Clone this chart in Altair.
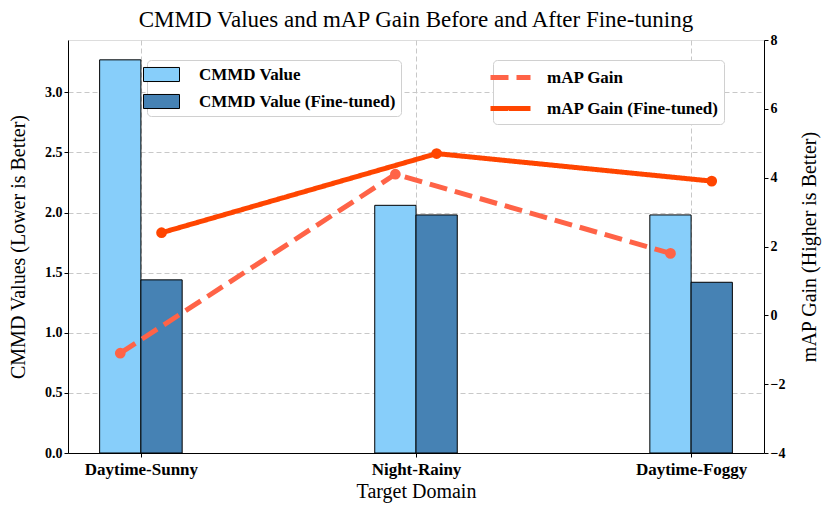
import altair as alt
import pandas as pd

categories = ["Daytime-Sunny", "Night-Rainy", "Daytime-Foggy"]
cmmd = [3.27, 2.06, 1.98]
cmmd_ft = [1.44, 1.98, 1.42]
map_gain = [-1.1, 4.1, 1.8]
map_gain_ft = [2.4, 4.7, 3.9]

bar_names = ["CMMD Value", "CMMD Value (Fine-tuned)"]
line_names = ["mAP Gain", "mAP Gain (Fine-tuned)"]
bar_colors = ["#87CEFA", "#4682B4"]
line_colors = ["#FF6347", "#FF4500"]

FONT = "Liberation Serif"
W = 0.15

rows_b, rows_l = [], []
for i, c in enumerate(categories):
    rows_b.append(dict(cat=c, series=bar_names[0], x=i - W, x2=i, v=cmmd[i]))
    rows_b.append(dict(cat=c, series=bar_names[1], x=i, x2=i + W, v=cmmd_ft[i]))
    rows_l.append(dict(cat=c, series=line_names[0], x=i - W / 2, v=map_gain[i]))
    rows_l.append(dict(cat=c, series=line_names[1], x=i + W / 2, v=map_gain_ft[i]))
df_b = pd.DataFrame(rows_b)
df_l = pd.DataFrame(rows_l)

label_expr = "[" + ",".join(f"'{c}'" for c in categories) + "][datum.value]"


def xenc():
    return alt.X("x:Q", scale=alt.Scale(domain=[-0.265, 2.265], nice=False, zero=False),
                 axis=alt.Axis(values=[0, 1, 2], labelExpr=label_expr, title="Target Domain",
                               grid=True, gridDash=[5, 3], gridColor="#c8c8c8",
                               labelFont=FONT, labelFontSize=17, labelFontWeight="bold",
                               labelColor="black", titleFont=FONT, titleFontSize=20,
                               titleFontWeight="normal", titleColor="black", titlePadding=4,
                               tickColor="black", domainColor="black", tickSize=4,
                               labelPadding=4))


def yright():
    return alt.Y("v:Q", scale=alt.Scale(domain=[-4, 8], nice=False),
                 axis=alt.Axis(orient="right", values=[-4, -2, 0, 2, 4, 6, 8],
                               labelExpr="replace(format(datum.value, 'd'), '-', '\u2212')",
                               title="mAP Gain (Higher is Better)", grid=False,
                               titleAngle=270, titleBaseline="bottom",
                               labelFont=FONT, labelFontSize=14, labelFontWeight="bold",
                               labelColor="black", titleFont=FONT, titleFontSize=20,
                               titleFontWeight="normal", titleColor="black", titlePadding=35,
                               tickColor="black", domainColor="black", tickSize=4))


bars = alt.Chart(df_b).mark_bar(stroke="black", strokeWidth=1, opacity=1).encode(
    x=xenc(),
    x2="x2:Q",
    y=alt.Y("v:Q", scale=alt.Scale(domain=[0, 3.435], nice=False),
            axis=alt.Axis(values=[0, 0.5, 1.0, 1.5, 2.0, 2.5, 3.0], format=".1f",
                          title="CMMD Values (Lower is Better)", grid=True,
                          gridDash=[5, 3], gridColor="#c8c8c8",
                          labelFont=FONT, labelFontSize=14, labelFontWeight="bold",
                          labelColor="black", titleFont=FONT, titleFontSize=20,
                          titleFontWeight="normal", titleColor="black", titlePadding=16,
                          tickColor="black", domainColor="black", tickSize=4)),
    y2=alt.datum(0),
    fill=alt.Fill("series:N", scale=alt.Scale(domain=bar_names, range=bar_colors),
                  legend=alt.Legend(title=None, orient="none", legendX=79, legendY=20,
                                    symbolType="M-2,-0.78H2V0.78H-2Z", symbolSize=324,
                                    symbolStrokeColor="black", symbolStrokeWidth=1,
                                    symbolOpacity=1, labelLimit=400,
                                    labelFont=FONT, labelFontSize=17, labelFontWeight="bold",
                                    labelColor="black", labelOffset=28, rowPadding=8,
                                    strokeColor="#d0d0d0", cornerRadius=4, padding=5,
                                    fillColor="white")),
)

leg_line = dict(title=None, orient="none", legendX=425, legendY=20,
                symbolType="M-2,0H2", symbolSize=400, symbolStrokeWidth=5,
                labelLimit=400,
                labelFont=FONT, labelFontSize=17, labelFontWeight="bold",
                labelColor="black", labelOffset=24, rowPadding=8,
                strokeColor="#d0d0d0", cornerRadius=4, padding=5, fillColor="white")

lines = alt.Chart(df_l).mark_line(strokeWidth=5).encode(
    x=xenc(),
    y=yright(),
    stroke=alt.Stroke("series:N", scale=alt.Scale(domain=line_names, range=line_colors),
                      legend=alt.Legend(**leg_line)),
    strokeDash=alt.StrokeDash("series:N",
                              scale=alt.Scale(domain=line_names, range=[[18, 8], [1, 0]]),
                              legend=alt.Legend(**leg_line)),
)

pts0 = alt.Chart(df_l).transform_filter(alt.datum.series == line_names[0]).mark_circle(
    size=115, opacity=1, color=line_colors[0]).encode(x=xenc(), y=yright())
pts1 = alt.Chart(df_l).transform_filter(alt.datum.series == line_names[1]).mark_circle(
    size=115, opacity=1, color=line_colors[1]).encode(x=xenc(), y=yright())

right = alt.layer(lines, pts0, pts1)

chart = alt.layer(bars, right).resolve_scale(y="independent").properties(
    width=696, height=413,
    title=alt.Title("CMMD Values and mAP Gain Before and After Fine-tuning",
                    font=FONT, fontSize=23, fontWeight="normal", color="black",
                    anchor="middle", offset=1),
    autosize=alt.AutoSizeParams(type="none"),
    padding={"left": 60, "top": 32, "right": 58, "bottom": 58},
).configure_view(stroke="black", strokeWidth=1).configure(background="white")

chart.save("out.html", embed_options={"renderer": "svg", "actions": False})
